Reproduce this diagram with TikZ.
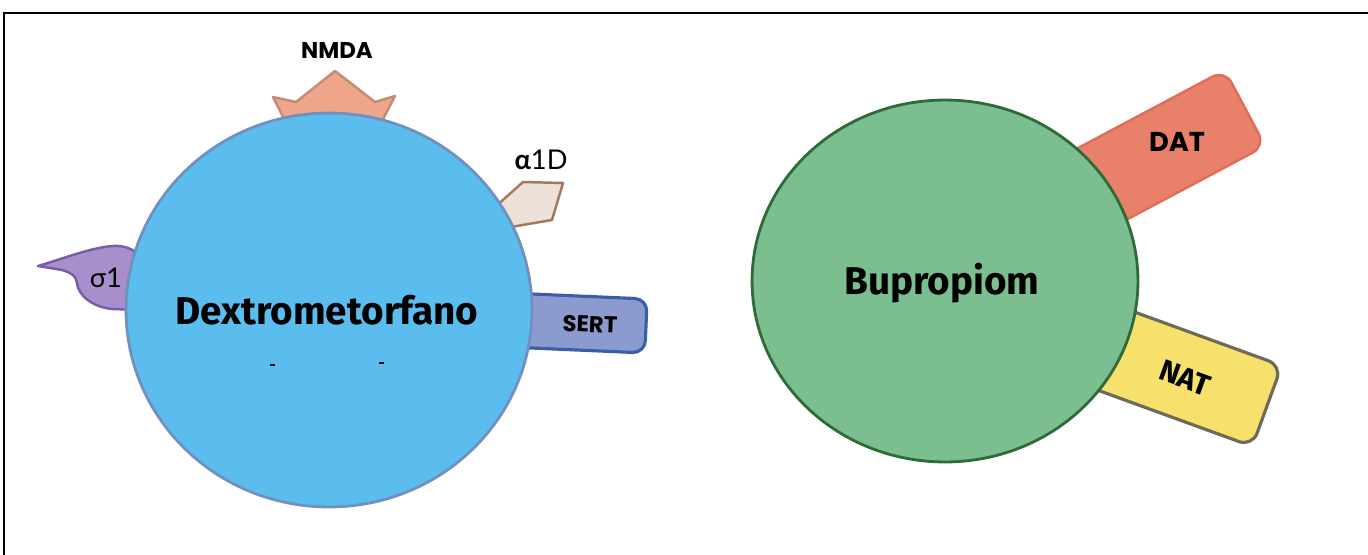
\documentclass[tikz,border=0pt]{standalone}
\usepackage{fontspec}
\usetikzlibrary{shapes.geometric}
\setmainfont{Fira Sans}
\newfontfamily\geofont{Poppins}
\newfontfamily\greekfont{Lato}
\newfontfamily\handfont{Fira Sans}
\definecolor{cellblue}{HTML}{5BBCEE}
\definecolor{cellblueedge}{HTML}{7090C0}
\definecolor{cellgreen}{HTML}{7BBE90}
\definecolor{cellgreenedge}{HTML}{2F6B38}
\definecolor{datfill}{HTML}{E9806A}
\definecolor{datedge}{HTML}{DE6E57}
\definecolor{natfill}{HTML}{F8E06C}
\definecolor{natedge}{HTML}{6E6A58}
\definecolor{sertfill}{HTML}{8C9BCF}
\definecolor{sertedge}{HTML}{3C5DAA}
\definecolor{nmdafill}{HTML}{EDA68A}
\definecolor{nmdaedge}{HTML}{C58B72}
\definecolor{alphafill}{HTML}{EDE0D8}
\definecolor{alphaedge}{HTML}{A8755D}
\definecolor{sigmafill}{HTML}{A68FCA}
\definecolor{sigmaedge}{HTML}{7A5BA8}
\begin{document}
\begin{tikzpicture}[x=0.02cm,y=-0.02cm,
  receptor/.style={line width=1.4pt, line join=round},
  cell/.style={line width=1.6pt, ellipse, inner sep=0pt},
  druglabel/.style={font=\handfont\bfseries\fontsize{22}{26}\selectfont, inner sep=0pt},
  boldlabel/.style={inner sep=0pt},
  thinlabel/.style={font=\greekfont\fontsize{15.5}{18}\selectfont, inner sep=0pt}]
\useasboundingbox (0,0) rectangle (1368,554);
% frame
\draw[line width=1.1pt] (4,560) -- (4,13) -- (1372,13);

% receptors of the left cell
\draw[receptor, fill=nmdafill, draw=nmdaedge]
  (287,125) -- (273,97) -- (296,102) -- (335,71) -- (375,102) -- (395,96) -- (380,125) -- cycle;
\draw[receptor, fill=alphafill, draw=alphaedge]
  (494,208) -- (523,182) -- (563,183) -- (552,220) -- (505,228) -- cycle;
\draw[receptor, fill=sigmafill, draw=sigmaedge]
  (38,266) .. controls (65,258) and (90,248) .. (112,246)
  .. controls (125,245) and (135,250) .. (140,256) -- (140,310) -- (112,309)
  .. controls (92,307) and (78,295) .. (77,283)
  .. controls (76,276) and (72,273) .. (62,270) -- cycle;
\begin{scope}[shift={(646,326)}, rotate=-2.5]
  \draw[receptor, fill=sertfill, draw=sertedge, line width=1.8pt, rounded corners=7pt]
    (-160,-27) rectangle (0,27);
\end{scope}

% receptors of the right cell
\begin{scope}[shift={(1245,108)}, rotate=28]
  \draw[receptor, fill=datfill, draw=datedge, rounded corners=8pt]
    (-240,-43) rectangle (0,43);
\end{scope}
\begin{scope}[shift={(1267,406)}, rotate=-20]
  \draw[receptor, fill=natfill, draw=natedge, line width=1.8pt, rounded corners=8pt]
    (-260,-43) rectangle (0,43);
\end{scope}

% the two cells
\node[cell, draw=cellblueedge, fill=cellblue, minimum width=8.12cm, minimum height=7.88cm] (dxm) at (329,310) {};
\node[cell, draw=cellgreenedge, fill=cellgreen, minimum width=7.72cm, minimum height=7.24cm] (bup) at (945,281) {};

\node[druglabel] (dxmlabel) at (327,310) {Dextrometorfano};
\node[druglabel] (buplabel) at (942,283) {Bupropiom};
\draw[line width=0.9pt] (270,365) -- (275,365);
\draw[line width=0.9pt] (379,363) -- (384,363);

% receptor labels
\node[boldlabel, font=\geofont\bfseries\fontsize{13}{15}\selectfont] (nmda) at (337,50) {NMDA};
\node[thinlabel] (alpha) at (541,160) {\textbf{α}1D};
\node[thinlabel] (sigma) at (106,278) {σ1};
\node[boldlabel, font=\geofont\bfseries\fontsize{13}{15}\selectfont, rotate=-2] (sert) at (590,324) {SERT};
\node[boldlabel, font=\geofont\bfseries\fontsize{15.5}{18}\selectfont] (dat) at (1177,142) {DAT};
\node[boldlabel, font=\handfont\bfseries\fontsize{17}{20}\selectfont, rotate=-20] (nat) at (1185,378) {NAT};
\end{tikzpicture}
\end{document}
